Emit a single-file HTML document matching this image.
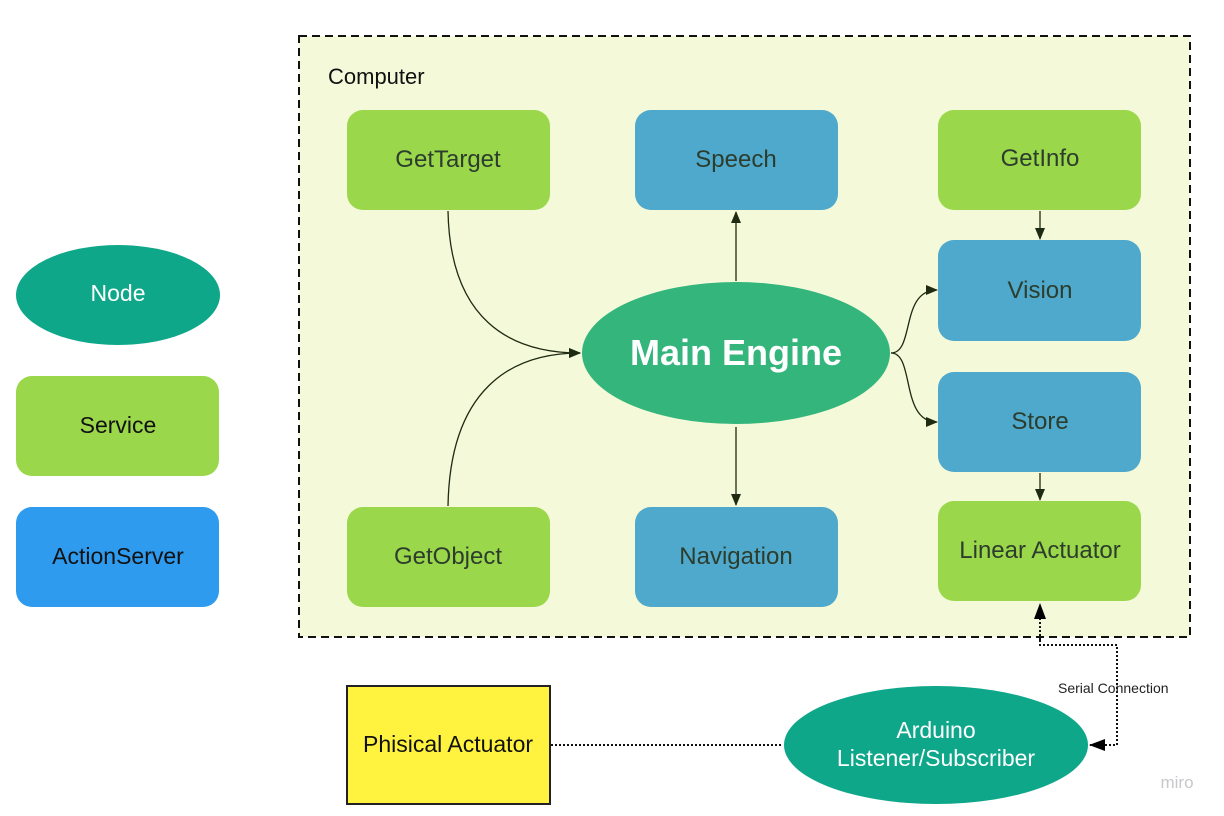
<!DOCTYPE html>
<html><head><style>body{margin:0;background:#fff}svg{display:block}text{font-family:"Liberation Sans",sans-serif}</style></head>
<body>
<svg width="1224" height="816" viewBox="0 0 1224 816" xmlns="http://www.w3.org/2000/svg">
<defs>
<marker id="a" markerWidth="12" markerHeight="10" refX="11" refY="5" orient="auto" markerUnits="userSpaceOnUse"><path d="M0,0 L12,5 L0,10 Z" fill="#1f2a12"/></marker>
<marker id="b" markerWidth="16" markerHeight="12" refX="15" refY="6" orient="auto" markerUnits="userSpaceOnUse"><path d="M0,0 L16,6 L0,12 Z" fill="#000"/></marker>
</defs>
<rect x="299" y="36" width="891" height="601" fill="#f4f9d9" stroke="#111" stroke-width="2" stroke-dasharray="8,5"/>
<text x="328" y="84" font-size="22" fill="#111">Computer</text>
<g font-size="24" fill="#2d3d2d" text-anchor="middle">
<rect x="347" y="110" width="203" height="100" rx="16" fill="#9bd74b"/><text x="448" y="167">GetTarget</text>
<rect x="635" y="110" width="203" height="100" rx="16" fill="#4ea9cc"/><text x="736" y="167">Speech</text>
<rect x="938" y="110" width="203" height="100" rx="16" fill="#9bd74b"/><text x="1040" y="166">GetInfo</text>
<rect x="938" y="240" width="203" height="101" rx="16" fill="#4ea9cc"/><text x="1040" y="298">Vision</text>
<rect x="938" y="372" width="203" height="100" rx="16" fill="#4ea9cc"/><text x="1040" y="429">Store</text>
<rect x="938" y="501" width="203" height="100" rx="16" fill="#9bd74b"/><text x="1040" y="558">Linear Actuator</text>
<rect x="347" y="507" width="203" height="100" rx="16" fill="#9bd74b"/><text x="448" y="564">GetObject</text>
<rect x="635" y="507" width="203" height="100" rx="16" fill="#4ea9cc"/><text x="736" y="564">Navigation</text>
</g>
<ellipse cx="736" cy="353" rx="154" ry="71" fill="#33b57c"/>
<text x="736" y="365" font-size="36" font-weight="bold" fill="#fff" text-anchor="middle">Main Engine</text>
<g fill="none" stroke="#1f2a12" stroke-width="1.3">
<path d="M448,211 C450,320 510,353 580,353" marker-end="url(#a)"/>
<path d="M448,506 C450,390 510,353 580,353" marker-end="url(#a)"/>
<path d="M736,281 L736,212" marker-end="url(#a)"/>
<path d="M736,427 L736,505" marker-end="url(#a)"/>
<path d="M891,353 C915,353 900,290 937,290" marker-end="url(#a)"/>
<path d="M891,353 C915,353 900,422 937,422" marker-end="url(#a)"/>
<path d="M1040,211 L1040,239" marker-end="url(#a)"/>
<path d="M1040,473 L1040,500" marker-end="url(#a)"/>
</g>
<g fill="none" stroke="#111" stroke-width="2" stroke-dasharray="2,2">
<path d="M1040,640 L1040,645 L1117,645 L1117,745 L1090,745" marker-end="url(#b)"/>
<path d="M1040,640 L1040,604" marker-end="url(#b)"/>
<path d="M551,745 L783,745"/>
</g>
<text x="1058" y="693" font-size="14" fill="#222">Serial Connection</text>
<ellipse cx="118" cy="295" rx="102" ry="50" fill="#0fa78a"/>
<text x="118" y="301" font-size="23" fill="#fff" text-anchor="middle">Node</text>
<rect x="16" y="376" width="203" height="100" rx="16" fill="#9bd74b"/>
<text x="118" y="433" font-size="23" fill="#111" text-anchor="middle">Service</text>
<rect x="16" y="507" width="203" height="100" rx="16" fill="#2e9bef"/>
<text x="118" y="564" font-size="23" fill="#111" text-anchor="middle">ActionServer</text>
<rect x="347" y="686" width="203" height="118" fill="#fff33f" stroke="#222" stroke-width="2"/>
<text x="448" y="752" font-size="23" fill="#111" text-anchor="middle">Phisical Actuator</text>
<ellipse cx="936" cy="745" rx="152" ry="59" fill="#0fa78a"/>
<text x="936" y="738" font-size="23" fill="#fff" text-anchor="middle">Arduino</text>
<text x="936" y="766" font-size="23" fill="#fff" text-anchor="middle">Listener/Subscriber</text>
<text x="1177" y="788" font-size="17" fill="#c8c8cc" text-anchor="middle">miro</text>
</svg>
</body></html>
